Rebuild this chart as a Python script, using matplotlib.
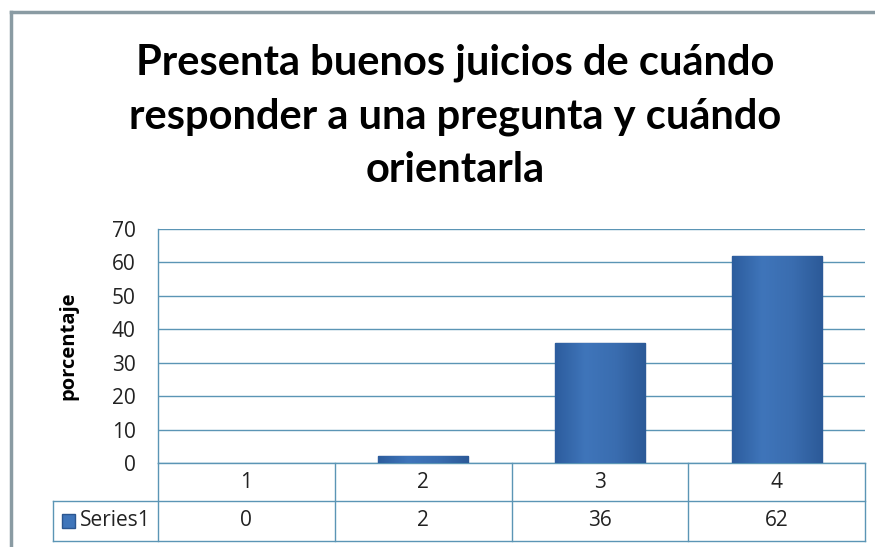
import numpy as np
import matplotlib.pyplot as plt
from matplotlib.colors import LinearSegmentedColormap
from matplotlib.lines import Line2D
from matplotlib.patches import Rectangle

title = 'Presenta buenos juicios de cuándo\nresponder a una pregunta y cuándo\norientarla'
categories = ['1', '2', '3', '4']
values = [0, 2, 36, 62]
series_name = 'Series1'
y_label = 'porcentaje'
y_ticks = [0, 10, 20, 30, 40, 50, 60, 70]

W, H = 875, 547
grid_col = '#5b95b5'
bar_col = '#3b6fb3'
txt_col = '#222222'
fs = 15

fig = plt.figure(figsize=(8.75, 5.47), dpi=100)
fig.patch.set_facecolor('white')

# outer chart frame (only top and left edges are in view)
fig.add_artist(Line2D([11 / W, 1], [1 - 12 / H] * 2, color='#8a9ba3', lw=2.5))
fig.add_artist(Line2D([11 / W] * 2, [0, 1 - 12 / H], color='#8a9ba3', lw=2.5))

fig.text(0.52, 1 - 116 / H, title, ha='center', va='center', fontsize=30,
         fontweight='bold', family='Lato', linespacing=1.5, color='black')

x0, x1, y0, y1 = 158, 865, 463, 229
ax = fig.add_axes((x0 / W, 1 - y0 / H, (x1 - x0) / W, (y0 - y1) / H))
x = np.arange(len(categories))
ax.set_yticks(y_ticks)
ax.set_yticklabels([str(t) for t in y_ticks], family='Open Sans', fontsize=fs, color=txt_col)
ax.tick_params(axis='y', length=0, pad=16)
ax.set_xticks([])
for s in ['top', 'right', 'bottom']:
    ax.spines[s].set_visible(False)
ax.spines['left'].set_color(grid_col)
ax.spines['left'].set_linewidth(1)
for t in y_ticks:
    ax.axhline(t, color=grid_col, lw=1, zorder=1)

ax.set_ylabel(y_label, fontsize=14.5, fontweight='bold', family='Open Sans', labelpad=24)

cmap = LinearSegmentedColormap.from_list('b', ['#2d5d9e', '#3f75ba', '#3a6db0', '#2c5a98'])
bars = ax.bar(x, values, width=0.51, color=bar_col, edgecolor='#2b5690', lw=1, zorder=3)
for b in bars:
    if b.get_height() <= 0:
        b.set_visible(False)
        continue
    im = ax.imshow(np.linspace(0, 1, 64)[None, :], cmap=cmap, aspect='auto', zorder=4,
                   extent=(b.get_x(), b.get_x() + b.get_width(), 0, b.get_height()))
    im.set_clip_path(b)
ax.set_ylim(0, 70)
ax.set_xlim(-0.5, len(categories) - 0.5)

# data table below the plot
row1 = -(501 - 463) / (y0 - y1)
row2 = -(541 - 463) / (y0 - y1)
left_cell = -(x0 - 53) / (x1 - x0) * len(categories) - 0.5
tr = ax.get_xaxis_transform()
tkw = dict(color=grid_col, lw=1, clip_on=False, transform=tr)
ax.add_line(Line2D([-0.5, 3.5], [0, 0], **tkw))
ax.add_line(Line2D([left_cell, 3.5], [row1, row1], **tkw))
ax.add_line(Line2D([left_cell, 3.5], [row2, row2], **tkw))
for xv in np.arange(-0.5, 4.0, 1.0):
    ax.add_line(Line2D([xv, xv], [0, row2], **tkw))
ax.add_line(Line2D([left_cell, left_cell], [row1, row2], **tkw))

for i, (c, v) in enumerate(zip(categories, values)):
    ax.text(i, row1 / 2, c, ha='center', va='center', transform=tr, fontsize=fs,
            family='Open Sans', color=txt_col)
    ax.text(i, (row1 + row2) / 2, str(v), ha='center', va='center', transform=tr,
            fontsize=fs, family='Open Sans', color=txt_col)

mid = (row1 + row2) / 2
ax.add_patch(Rectangle((left_cell + 0.05, mid - 0.028), 0.075, 0.056, transform=tr,
                       facecolor='#3f75ba', edgecolor='#2b5690', clip_on=False))
ax.text(left_cell + 0.155, mid, series_name, ha='left', va='center', transform=tr,
        fontsize=fs, family='Open Sans', color=txt_col)

fig.savefig('out.png', dpi=100)
